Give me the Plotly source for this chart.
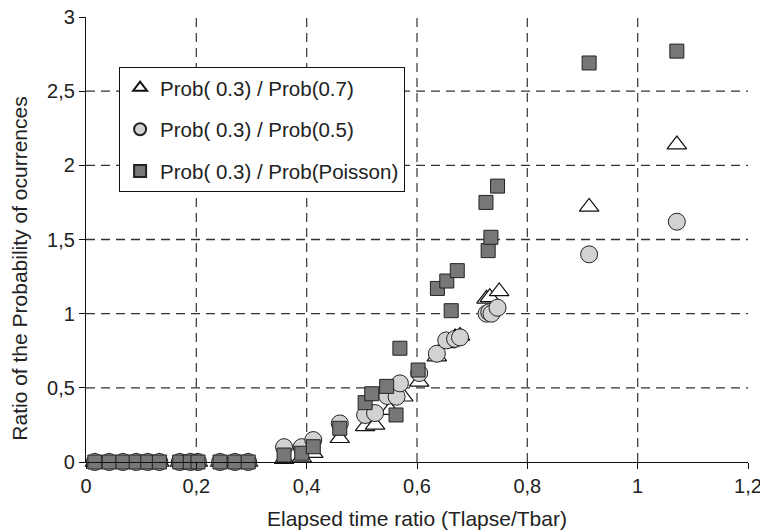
import plotly.graph_objects as go

# ---- data ----
tri_x = [0.016, 0.042, 0.067, 0.091, 0.112, 0.133, 0.170, 0.189, 0.203, 0.243, 0.270, 0.294,
         0.359, 0.391, 0.412, 0.460, 0.506, 0.524, 0.551, 0.575, 0.604, 0.636, 0.653, 0.669,
         0.678, 0.726, 0.732, 0.749, 0.912, 1.071]
tri_y = [0, 0, 0, 0, 0, 0, 0, 0, 0, 0, 0, 0,
         0.02, 0.03, 0.06, 0.16, 0.24, 0.25, 0.35, 0.44, 0.54, 0.71, 0.80, 0.84,
         0.85, 1.10, 1.11, 1.15, 1.72, 2.14]

circ_x = [0.016, 0.042, 0.067, 0.091, 0.112, 0.133, 0.170, 0.189, 0.203, 0.243, 0.270, 0.294,
          0.359, 0.391, 0.412, 0.460, 0.506, 0.524, 0.546, 0.563, 0.569, 0.604, 0.636, 0.653,
          0.669, 0.678, 0.726, 0.731, 0.735, 0.746, 0.912, 1.071]
circ_y = [0, 0, 0, 0, 0, 0, 0, 0, 0, 0, 0, 0,
          0.10, 0.10, 0.148, 0.26, 0.317, 0.33, 0.445, 0.44, 0.53, 0.60, 0.73, 0.82,
          0.83, 0.84, 1.00, 1.01, 1.00, 1.04, 1.40, 1.62]

sq_x = [0.016, 0.042, 0.067, 0.091, 0.112, 0.133, 0.170, 0.189, 0.203, 0.243, 0.270, 0.294,
        0.359, 0.391, 0.412, 0.460, 0.506, 0.518, 0.545, 0.562, 0.569, 0.602, 0.637, 0.654,
        0.662, 0.673, 0.725, 0.729, 0.734, 0.746, 0.912, 1.071]
sq_y = [0, 0, 0, 0, 0, 0, 0, 0, 0, 0, 0, 0,
        0.047, 0.059, 0.103, 0.227, 0.40, 0.46, 0.51, 0.317, 0.767, 0.62, 1.17, 1.22,
        1.02, 1.29, 1.75, 1.425, 1.515, 1.86, 2.69, 2.77]

series_names = ["Prob( 0.3) / Prob(0.7)", "Prob( 0.3) / Prob(0.5)", "Prob( 0.3) / Prob(Poisson)"]
x_ticks = [0, 0.2, 0.4, 0.6, 0.8, 1.0, 1.2]
y_ticks = [0, 0.5, 1, 1.5, 2, 2.5, 3]
x_grid = [0.2, 0.4, 0.6, 0.8, 1.0]
y_grid = [0.5, 1, 1.5, 2, 2.5]

FONT = "Liberation Sans, Arial, sans-serif"

fig = go.Figure()
fig.add_trace(go.Scatter(
    x=tri_x, y=tri_y, mode="markers", name=series_names[0], legendgroup="a",
    cliponaxis=False,
    marker=dict(symbol="triangle-up", size=17, color="white",
                line=dict(color="#111", width=1.2))))
fig.add_trace(go.Scatter(
    x=circ_x, y=circ_y, mode="markers", name=series_names[1], legendgroup="b",
    cliponaxis=False,
    marker=dict(symbol="circle", size=17, color="#d2d2d2",
                line=dict(color="#222", width=1))))
fig.add_trace(go.Scatter(
    x=sq_x, y=sq_y, mode="markers", name=series_names[2], legendgroup="c",
    cliponaxis=False,
    marker=dict(symbol="square", size=14, color="#777777",
                line=dict(color="#222", width=1))))

shapes = []
for gx in x_grid:
    shapes.append(dict(type="line", xref="x", yref="paper", x0=gx, x1=gx, y0=0, y1=1,
                       layer="below", line=dict(color="#444", width=1.3, dash="9px,6px")))
for gy in y_grid:
    shapes.append(dict(type="line", xref="paper", yref="y", x0=0, x1=1, y0=gy, y1=gy,
                       layer="below", line=dict(color="#333", width=1.3, dash="9px,6px")))

# the page body adds an 8px offset, so the figure is 8px smaller and margins shifted
fig.update_layout(
    template="none",
    width=760, height=524,
    margin=dict(l=78, r=20, t=9, b=70, autoexpand=False),
    paper_bgcolor="white", plot_bgcolor="white",
    separators=",.",
    font=dict(family=FONT, size=20, color="#222"),
    showlegend=True,
    legend=dict(x=0.05, y=0.888, xanchor="left", yanchor="top",
                bgcolor="white", bordercolor="#111", borderwidth=1,
                font=dict(family=FONT, size=20.5, color="#222"),
                tracegroupgap=12, itemsizing="constant"),
    shapes=shapes,
    xaxis=dict(range=[0, 1.2], tickvals=x_ticks, showgrid=False, zeroline=False,
               automargin=False, ticklabeloverflow="allow",
               showline=True, linecolor="#111", linewidth=1.2,
               ticks="outside", ticklen=6, tickcolor="#111",
               tickfont=dict(family=FONT, size=20, color="#222")),
    yaxis=dict(range=[0, 3], tickvals=y_ticks, showgrid=False, zeroline=False,
               automargin=False, ticklabeloverflow="allow",
               showline=True, linecolor="#111", linewidth=1.2,
               ticks="outside", ticklen=6, tickcolor="#111",
               tickfont=dict(family=FONT, size=20, color="#222")),
    annotations=[
        dict(text="Elapsed time ratio (Tlapse/Tbar)", xref="paper", yref="paper",
             x=0.5, y=-0.126, xanchor="center", yanchor="middle", showarrow=False,
             font=dict(family=FONT, size=21, color="#222")),
        dict(text="Ratio of the Probability of ocurrences", xref="paper", yref="paper",
             x=-0.1, y=0.434, xanchor="center", yanchor="middle", showarrow=False,
             textangle=-90, font=dict(family=FONT, size=21, color="#222")),
    ],
)

fig.write_html("out.html")
